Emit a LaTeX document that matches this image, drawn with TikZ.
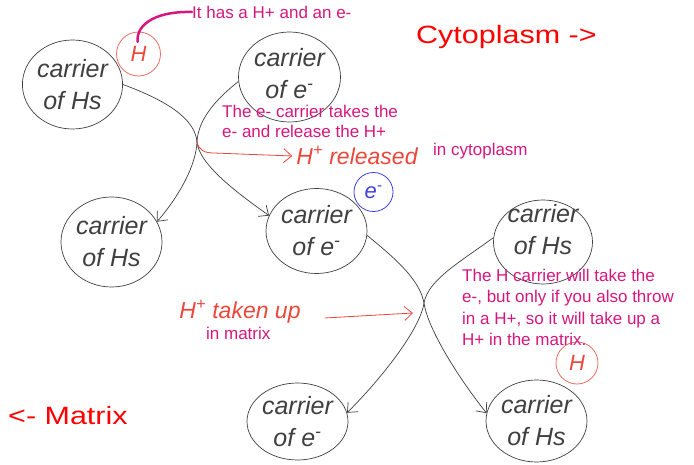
\documentclass[tikz,border=0pt]{standalone}
\usepackage{fontspec}
\usepackage{graphicx}
\setmainfont{Liberation Sans}
\newfontfamily\handfont{Liberation Sans}
\usepackage{tikz}
\usetikzlibrary{shapes.geometric}
\usetikzlibrary{arrows.meta,calc}
\usepackage{xcolor}
\definecolor{notepink}{RGB}{214,24,126}
\definecolor{penred}{RGB}{234,72,60}
\definecolor{penblue}{RGB}{64,64,224}
\definecolor{pengray}{RGB}{64,64,64}
\tikzstyle{handtext}=[inner sep=0pt, align=center, text=pengray, font=\handfont\itshape\fontsize{25}{32}\selectfont]
\tikzstyle{carrier}=[ellipse, draw=pengray, line width=0.7pt, handtext]
\tikzstyle{flow}=[draw=pengray, line width=0.7pt, -{Straight Barb[length=8pt,width=14pt]}]
\tikzstyle{pen>}=[draw=penred, line width=0.8pt, -{Straight Barb[length=8pt,width=14pt]}]
\tikzstyle{ion}=[circle, draw, line width=0.8pt, inner sep=0pt, font=\handfont\itshape\fontsize{22}{22}\selectfont]
\tikzstyle{note}=[text=notepink, font=\fontsize{17}{21.5}\selectfont, align=left, inner sep=0pt, anchor=west]
\tikzstyle{pennote}=[text=penred, font=\handfont\itshape\fontsize{23}{23}\selectfont, inner sep=0pt]
\tikzstyle{side}=[text=red, font=\fontsize{25}{25}\selectfont, inner sep=0pt, anchor=west]
\newcommand{\ofe}{of e\textsuperscript{-}}

\begin{document}
\begin{tikzpicture}[x=1pt,y=-1pt]
\path[fill=white] (0,0) rectangle (694,465);
\useasboundingbox (0,0) rectangle (694,465);
% carriers
\node[carrier, minimum width=100pt, minimum height=89pt] (hs1) at (72.5,84.5) {carrier\\of Hs};
\node[carrier, minimum width=102pt, minimum height=90pt] (ec1) at (289.5,77) {};
\node[handtext] (ec1txt) at ($(ec1)+(0,-3)$) {carrier\\\ofe};
\node[carrier, minimum width=101pt, minimum height=90pt] (hs2) at (111.5,242) {carrier\\of Hs};
\node[carrier, minimum width=101pt, minimum height=85pt] (ec2) at (316.5,231) {carrier\\\ofe};
\node[carrier, minimum width=99pt, minimum height=84pt] (hs3) at (543,242) {};
\node[handtext] (hs3txt) at ($(hs3)+(0,-12)$) {carrier\\of Hs};
\node[carrier, minimum width=101pt, minimum height=77pt] (ec3) at (297.5,421.5) {carrier\\\ofe};
\node[carrier, minimum width=101pt, minimum height=82pt] (hs4) at (536.5,421) {carrier\\of Hs};
% ions
\node[ion, draw=penred!80, text=penred, minimum size=44pt] (hup) at (138.5,54) {H};
\node[ion, draw=penblue, text=penblue, minimum size=39pt] (eion) at (373.5,192) {e\textsuperscript{-}};
\node[ion, draw=penred!80, text=penred, minimum size=42pt] (hdown) at (577,363) {H};
% crossings
\coordinate (xup) at (197,142);
\coordinate (xlow) at (424,303);
\coordinate (uptip) at (413,313);
\draw[flow] (hs1.east) .. controls (165,100) and (195,118) .. (xup) .. controls (199,165) and (240,195) .. (ec2.162);
\draw[flow] (ec1.185) .. controls (215,100) and (198,120) .. (xup) .. controls (196,165) and (180,195) .. (hs2.24);
\draw[flow] (ec2.-5) .. controls (395,258) and (420,280) .. (xlow) .. controls (428,330) and (460,380) .. (hs4.171);
\draw[flow] (hs3.175) .. controls (460,262) and (428,280) .. (xlow) .. controls (420,330) and (380,380) .. (ec3.10);
% notes
\node[note] (hasnote) at (192,12) {It has a H+ and an e-};
\node[side] (cyto) at (416,37) {\scalebox{1.22}[1]{Cytoplasm ->}};
\node[side] (matrix) at (8,416) {\scalebox{1.22}[1]{<- Matrix}};
\node[note, font=\fontsize{17}{20}\selectfont] (enote) at (222,121.5) {The e- carrier takes the\\e- and release the H+};
\node[pennote] (relnote) at (357,155) {H\textsuperscript{+} released};
\node[note] (cytonote) at (433,151) {in cytoplasm};
\node[pennote] (upnote) at (240,312) {H\textsuperscript{+} taken up};
\node[note] (matnote) at (206,333) {in matrix};
\node[note] (hnote) at (462,307.5) {The H carrier will take the\\e-, but only if you also throw\\in a H+, so it will take up a\\H+ in the matrix.};
\draw[notepink, line width=2.5pt, line cap=round] ($(hup)+(-1,-12)$) .. controls (136,22) and (160,11) .. (hasnote.west);
\draw[pen>] (xup) .. controls (199,150) and (204,153) .. (214,153) -- ([xshift=-4pt,yshift=-1pt]relnote.west);
\draw[pen>] ([xshift=24pt,yshift=-6pt]upnote.east) -- (uptip);
\end{tikzpicture}
\end{document}
